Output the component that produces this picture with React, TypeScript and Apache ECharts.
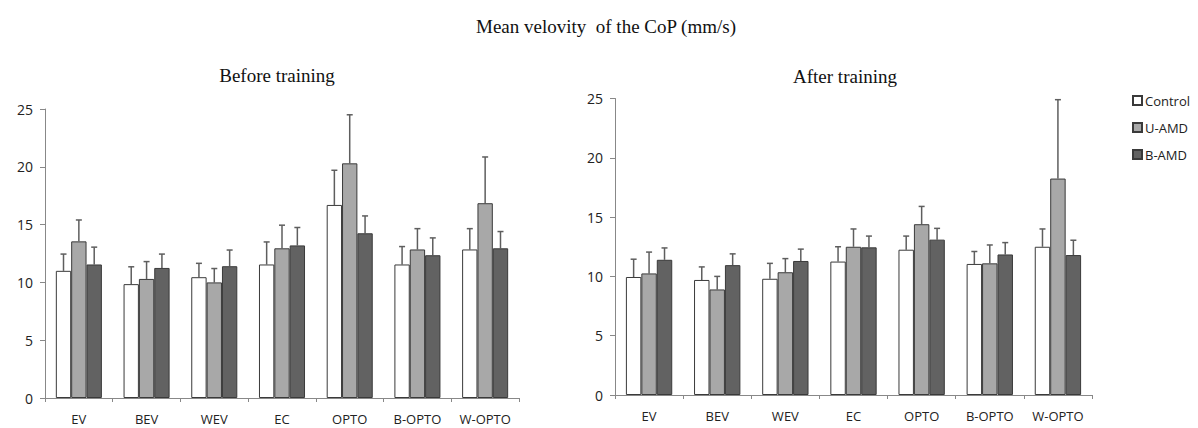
import React, { useEffect, useRef } from "react";
import * as echarts from "echarts";

const categories = ["EV", "BEV", "WEV", "EC", "OPTO", "B-OPTO", "W-OPTO"];
const groups = ["Control", "U-AMD", "B-AMD"];
const yTicks = [0, 5, 10, 15, 20, 25];

// Before training
const beforeControl = [11.0, 9.85, 10.45, 11.55, 16.7, 11.55, 12.85];
const beforeUAMD = [13.55, 10.3, 10.0, 12.95, 20.3, 12.85, 16.85];
const beforeBAMD = [11.55, 11.25, 11.4, 13.2, 14.25, 12.35, 12.95];
const beforeControlErr = [12.45, 11.35, 11.65, 13.5, 19.7, 13.1, 14.65];
const beforeUAMDErr = [15.4, 11.8, 11.2, 14.95, 24.5, 14.65, 20.85];
const beforeBAMDErr = [13.05, 12.45, 12.8, 14.75, 15.75, 13.85, 14.4];

// After training
const afterControl = [9.95, 9.7, 9.8, 11.25, 12.25, 11.05, 12.5];
const afterUAMD = [10.25, 8.9, 10.35, 12.5, 14.4, 11.1, 18.25];
const afterBAMD = [11.4, 10.95, 11.3, 12.45, 13.1, 11.85, 11.8];
const afterControlErr = [11.45, 10.8, 11.1, 12.5, 13.4, 12.1, 14.0];
const afterUAMDErr = [12.05, 10.0, 11.5, 14.0, 15.9, 12.65, 24.9];
const afterBAMDErr = [12.4, 11.9, 12.3, 13.4, 14.05, 12.85, 13.05];

const colors = ["#ffffff", "#a8a8a8", "#626262"];
const borderColor = "#3a3a3a";
const catGap = 0.32;

export default function App() {
  const ref = useRef<HTMLDivElement>(null);
  useEffect(() => {
    if (!ref.current) return;
    const chart = echarts.init(ref.current, undefined, { renderer: "svg" });

    const barSeries = (name: string, data: number[], idx: number, axis: number) => ({
      type: "bar",
      name,
      xAxisIndex: axis,
      yAxisIndex: axis,
      data,
      barGap: "0%",
      barCategoryGap: catGap * 100 + "%",
      itemStyle: { color: colors[idx], borderColor, borderWidth: 1 },
      silent: true,
    });

    const errSeries = (vals: number[][], errs: number[][], axis: number) => {
      const data: number[][] = [];
      for (let s = 0; s < 3; s++) {
        for (let c = 0; c < categories.length; c++) {
          data.push([c, errs[s][c], vals[s][c], s]);
        }
      }
      return {
        type: "custom",
        xAxisIndex: axis,
        yAxisIndex: axis,
        silent: true,
        z: 1,
        data,
        renderItem: (params: any, api: any) => {
          const c = api.value(0);
          const top = api.coord([c, api.value(1)]);
          const base = api.coord([c, api.value(2)]);
          const s = api.value(3);
          const catW = api.size([1, 0])[0];
          const bw = (catW * (1 - catGap)) / 3;
          const x = top[0] + (s - 1) * bw;
          const cap = 3;
          const style = { stroke: "#5e5e5e", lineWidth: 1.5 };
          return {
            type: "group",
            children: [
              { type: "line", shape: { x1: x, y1: base[1], x2: x, y2: top[1] }, style },
              { type: "line", shape: { x1: x - cap, y1: top[1], x2: x + cap, y2: top[1] }, style },
            ],
          };
        },
      };
    };

    const xAxis = (gi: number) => ({
      type: "category",
      gridIndex: gi,
      data: categories,
      axisLine: { lineStyle: { color: "#888", width: 1 } },
      axisTick: { show: true, length: 4, lineStyle: { color: "#888" } },
      axisLabel: { color: "#222", fontSize: 13, fontFamily: "Open Sans", margin: 14 },
    });
    const yAxis = (gi: number) => ({
      type: "value",
      gridIndex: gi,
      min: yTicks[0],
      max: yTicks[yTicks.length - 1],
      interval: 5,
      axisLine: { show: true, lineStyle: { color: "#888", width: 1 } },
      axisTick: { show: true, length: 5, lineStyle: { color: "#888" } },
      axisLabel: { color: "#222", fontSize: 14, fontFamily: "Open Sans", margin: 12 },
      splitLine: { show: false },
    });

    chart.setOption({
      animation: false,
      backgroundColor: "#ffffff",
      title: [
        {
          text: "Mean velovity  of the CoP (mm/s)",
          left: 601,
          top: 12,
          textAlign: "center",
          textStyle: { fontFamily: "Liberation Serif", fontSize: 19, fontWeight: "normal", color: "#111" },
        },
        {
          text: "Before training",
          left: 272,
          top: 61,
          textAlign: "center",
          textStyle: { fontFamily: "Liberation Serif", fontSize: 19, fontWeight: "normal", color: "#111" },
        },
        {
          text: "After training",
          left: 840,
          top: 62,
          textAlign: "center",
          textStyle: { fontFamily: "Liberation Serif", fontSize: 19, fontWeight: "normal", color: "#111" },
        },
      ],
      legend: {
        orient: "vertical",
        left: 1127,
        top: 89,
        itemWidth: 9,
        itemHeight: 9,
        itemGap: 14,
        icon: "rect",
        data: groups,
        textStyle: { fontFamily: "Open Sans", fontSize: 13, color: "#222", padding: [0, 0, 0, -2] },
        selectedMode: false,
      },
      grid: [
        { left: 45, top: 109, width: 474, height: 289 },
        { left: 615, top: 98.5, width: 477, height: 296.5 },
      ],
      xAxis: [xAxis(0), xAxis(1)],
      yAxis: [yAxis(0), yAxis(1)],
      series: [
        barSeries(groups[0], beforeControl, 0, 0),
        barSeries(groups[1], beforeUAMD, 1, 0),
        barSeries(groups[2], beforeBAMD, 2, 0),
        barSeries(groups[0], afterControl, 0, 1),
        barSeries(groups[1], afterUAMD, 1, 1),
        barSeries(groups[2], afterBAMD, 2, 1),
        errSeries(
          [beforeControl, beforeUAMD, beforeBAMD],
          [beforeControlErr, beforeUAMDErr, beforeBAMDErr],
          0
        ),
        errSeries(
          [afterControl, afterUAMD, afterBAMD],
          [afterControlErr, afterUAMDErr, afterBAMDErr],
          1
        ),
      ],
    });
    return () => chart.dispose();
  }, []);
  return <div ref={ref} style={{ width: 1198, height: 428, position: "absolute", left: 0, top: 0 }} />;
}
